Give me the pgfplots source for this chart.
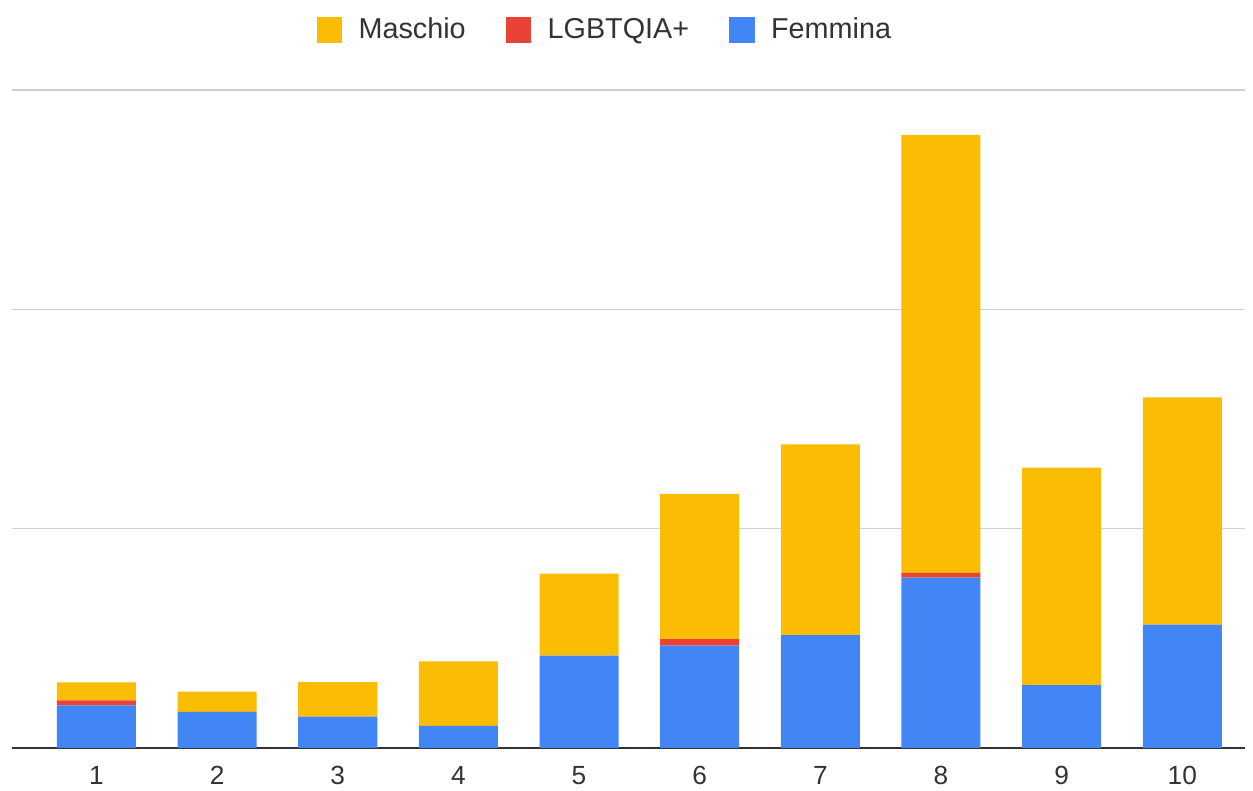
\documentclass[border=0pt]{standalone}
\usepackage{pgfplots}
\pgfplotsset{compat=1.18}
\usepackage{fontspec}
\setmainfont{Liberation Sans}
\definecolor{gyellow}{HTML}{FBBC04}
\definecolor{gred}{HTML}{EA4335}
\definecolor{gblue}{HTML}{4285F4}
\definecolor{gridgray}{HTML}{D0D0D0}
\definecolor{txtgray}{HTML}{333333}

\begin{document}
\begin{tikzpicture}
\begin{axis}[
    scale only axis,
    width=493pt, height=263pt,
    xmin=0.3, xmax=10.52,
    ymin=0, ymax=150,
    ybar stacked,
    bar width=0.655,
    xtick={1,...,10},
    ytick={0,50,100,150},
    yticklabels={},
    ymajorgrids,
    grid style={gridgray, line width=0.5pt},
    extra y ticks={0},
    extra y tick labels={},
    extra y tick style={grid style={draw=txtgray, line width=0.9pt}},
    axis line style={draw=none},
    tick style={draw=none},
    /pgf/number format/assume math mode=true,
    xticklabel style={font=\fontsize{10.5}{12}\selectfont, text=txtgray, yshift=-4pt},
    legend style={at={(0.482,1)}, yshift=24pt, anchor=center, draw=none,
        legend columns=-1, font=\fontsize{11.5}{13}\selectfont, text=txtgray,
        /tikz/every even column/.append style={column sep=14pt}},
    legend image code/.code={
        \fill[#1, draw=none] (0cm,-0.18cm) rectangle (0.36cm,0.18cm);
        \path[draw=none, fill=none] (0.36cm,0) -- (0.52cm,0);},
]
\addlegendimage{fill=gyellow}
\addlegendentry{Maschio}
\addlegendimage{fill=gred}
\addlegendentry{LGBTQIA+}
\addlegendimage{fill=gblue}
\addlegendentry{Femmina}

% Femmina
\addplot[fill=gblue, draw=none, forget plot] coordinates {
    (1,9.7) (2,8.2) (3,7.1) (4,5.0) (5,21.0) (6,23.3) (7,25.7) (8,38.8) (9,14.3) (10,28.1)
};
% LGBTQIA+
\addplot[fill=gred, draw=none, forget plot] coordinates {
    (1,1.1) (2,0) (3,0) (4,0) (5,0) (6,1.5) (7,0) (8,1.1) (9,0) (10,0)
};
% Maschio
\addplot[fill=gyellow, draw=none, forget plot] coordinates {
    (1,4.1) (2,4.6) (3,7.9) (4,14.7) (5,18.7) (6,33.1) (7,43.5) (8,99.9) (9,49.6) (10,51.8)
};
\coordinate (bl) at (rel axis cs:0,0);
\coordinate (tr) at (rel axis cs:1,1);
\end{axis}
\pgfresetboundingbox
\path ([shift={(-4.8pt,-17.2pt)}]bl) rectangle ([shift={(3.2pt,36pt)}]tr);
\end{tikzpicture}
\end{document}
